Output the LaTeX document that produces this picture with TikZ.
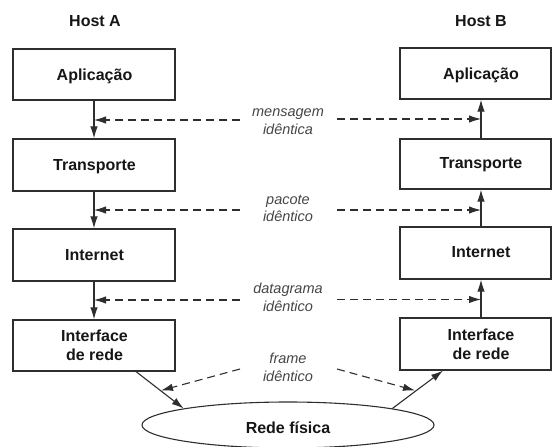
\documentclass[tikz,border=0pt]{standalone}
\usepackage{fontspec}
\setmainfont{Liberation Sans}
\usetikzlibrary{arrows.meta,shapes.geometric}
\definecolor{ink}{HTML}{161616}
\definecolor{ln}{HTML}{2E2E2E}
\begin{document}
\begin{tikzpicture}[x=1pt,y=-1pt,
  box/.style={draw=ln, line width=1.2pt, inner sep=0pt},
  lbl/.style={font=\bfseries\fontsize{16}{19}\selectfont, text=ink, anchor=base, inner sep=0pt},
  msg/.style={font=\itshape\fontsize{14.5}{17}\selectfont, text=ink!80, anchor=base, inner sep=0pt},
  arr/.style={draw=ln, line width=1.1pt, -{Latex[length=12pt,width=7.5pt]}},
  darr/.style={arr, dash pattern=on 8pt off 5pt}]
\useasboundingbox (0,0) rectangle (552,447);

% Host A stack
\node[box, minimum width=162pt, minimum height=51pt] (aA) at (94,74.5) {};
\node[box, minimum width=162pt, minimum height=52pt] (tA) at (94,165) {};
\node[box, minimum width=162pt, minimum height=52pt] (iA) at (94,255) {};
\node[box, minimum width=162pt, minimum height=51pt] (nA) at (94,345.5) {};
\node[lbl] (hAt) at (95,27) {Host A};
\node[lbl] (aAt) at (94.5,80.3) {Aplicação};
\node[lbl] (tAt) at (94.5,170.8) {Transporte};
\node[lbl] (iAt) at (94.5,260.3) {Internet};
\node[lbl] (nAt1) at (94.5,341) {Interface};
\node[lbl] (nAt2) at (94.5,360) {de rede};

% Host B stack
\node[box, minimum width=151pt, minimum height=51pt] (aB) at (475.5,73.5) {};
\node[box, minimum width=151pt, minimum height=50pt] (tB) at (475.5,164) {};
\node[box, minimum width=151pt, minimum height=52pt] (iB) at (475.5,253) {};
\node[box, minimum width=151pt, minimum height=52pt] (nB) at (475.5,344) {};
\node[lbl] (hBt) at (481,26) {Host B};
\node[lbl] (aBt) at (481,79.3) {Aplicação};
\node[lbl] (tBt) at (481,168.8) {Transporte};
\node[lbl] (iBt) at (481,257.8) {Internet};
\node[lbl] (nBt1) at (481,340.5) {Interface};
\node[lbl] (nBt2) at (481,359) {de rede};

% physical network
\node[ellipse, draw=ln, line width=1.1pt, minimum width=292pt, minimum height=46pt, inner sep=0pt] (net) at (288,425) {};
\node[lbl] (netT) at (288,433.5) {Rede física};

% messages
\node[msg] (m1a) at (288,116) {mensagem};
\node[msg] (m1b) at (288,134) {idêntica};
\node[msg] (m2a) at (288,204) {pacote};
\node[msg] (m2b) at (288,221.5) {idêntico};
\node[msg] (m3a) at (288,293) {datagrama};
\node[msg] (m3b) at (288,311.5) {idêntico};
\node[msg] (m4a) at (288,363) {frame};
\node[msg] (m4b) at (288,381.5) {idêntico};

% vertical flow, host A (down)
\draw[arr] (aA.south) -- (tA.north);
\draw[arr] (tA.south) -- (iA.north);
\draw[arr] (iA.south) -- (nA.north);
% vertical flow, host B (up)
\draw[arr] (tB.north -| aBt) -- (aB.south -| aBt);
\draw[arr] (iB.north -| aBt) -- (tB.south -| aBt);
\draw[arr] (nB.north -| aBt) -- (iB.south -| aBt);

% to / from the physical network
\draw[arr] ([xshift=42pt]nA.south) -- (net.171);
\draw[arr] (net.9) -- ([xshift=-32.5pt]nB.south);

% dashed "identical" arrows
\coordinate (d1L) at (240,120);
\coordinate (d1R) at (337,119);
\coordinate (d2L) at (240,210);
\coordinate (d2R) at (337,210);
\coordinate (d3L) at (240,300);
\coordinate (d3R) at (337,299.5);
\draw[darr] (d1L) -- (d1L -| aA.south);
\draw[darr] (d1R) -- (d1R -| aBt);
\draw[darr] (d2L) -- (d2L -| tA.south);
\draw[darr] (d2R) -- (d2R -| aBt);
\draw[darr] (d3L) -- (d3L -| iA.south);
\draw[darr] (d3R) -- (d3R -| aBt);

\coordinate (f1) at (240,369);
\coordinate (f1e) at (161,390.5);
\coordinate (f2) at (337,369);
\coordinate (f2e) at (415,390.5);
\draw[darr] (f1) -- (f1e);
\draw[darr] (f2) -- (f2e);
\end{tikzpicture}
\end{document}
